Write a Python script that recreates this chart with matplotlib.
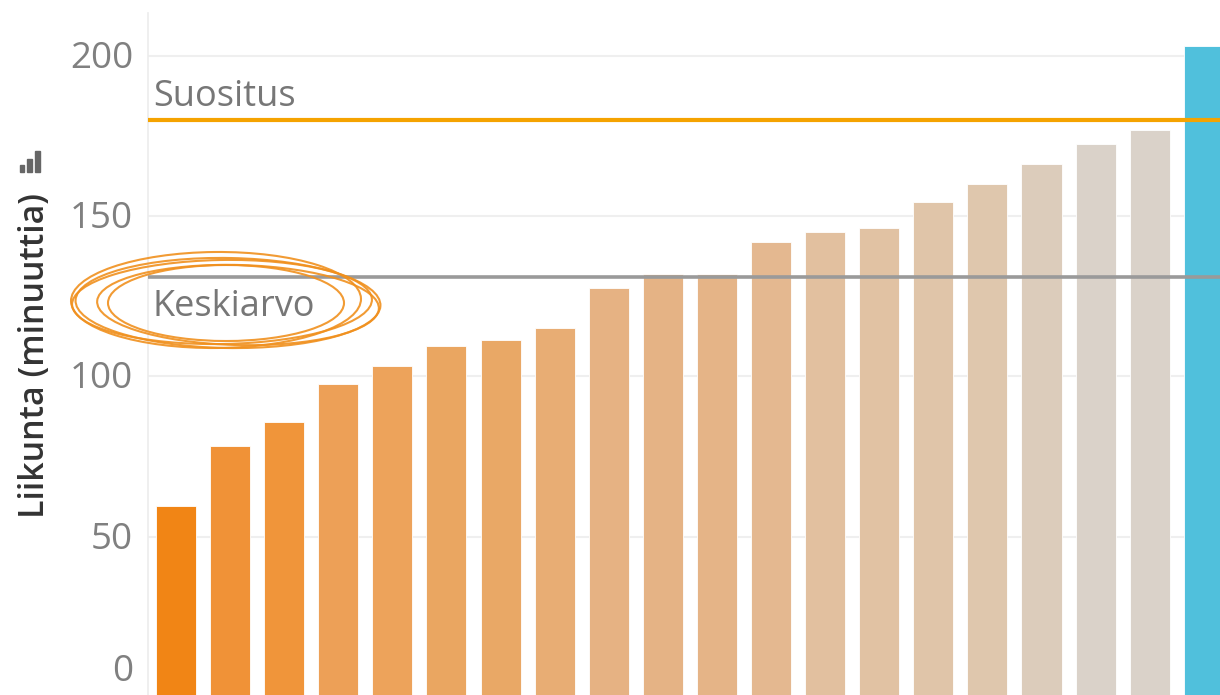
import matplotlib
matplotlib.use("Agg")
import matplotlib.pyplot as plt
import numpy as np
from matplotlib.patches import Ellipse, Rectangle

# ---- data ----
categories = [f"R{i+1}" for i in range(20)]
values = [59.6, 78.3, 85.8, 97.6, 103.2, 109.5, 111.3, 115.1, 127.5, 131.9,
          131.9, 141.9, 145.0, 146.2, 154.4, 160.0, 166.2, 172.4, 176.8, 203.0]
bar_colors = ["#F18515", "#F09237", "#F0953A", "#EDA057", "#EDA35B", "#EAA661",
              "#E9A866", "#E8AD74", "#E6B283", "#E5B385", "#E5B487", "#E4B890",
              "#E2C09F", "#E1C2A3", "#E0C5A9", "#DFC7AD", "#DCCCBB", "#DAD2C9",
              "#DAD2C9", "#50C0DC"]
recommendation = 180
yticks = [0, 50, 100, 150, 200]
ylabel = "Liikunta (minuuttia)"

W, H = 1220, 695
fig = plt.figure(figsize=(W / 100, H / 100), dpi=100)
plt.rcParams['font.family'] = ['Open Sans', 'DejaVu Sans']

# axes: left edge 148px, top 13px, value 0 at y=697px (just below image)
ax = fig.add_axes([148 / W, (H - 697) / H, (W - 148) / W, (697 - 13) / H])
x = np.arange(len(values))
ax.bar(x, values, width=0.74, color=bar_colors, edgecolor="white",
       linewidth=0.6, zorder=2)
ax.set_xlim(-0.518, 19.30)
ax.set_ylim(0, 213.3)

ax.set_yticks(yticks)
ax.set_yticklabels([])
ax.yaxis.grid(True, color="#EFEFEF", linewidth=1.5, zorder=0)
ax.tick_params(axis="both", length=0)
ax.set_xticks([])
for s in ["top", "right", "bottom"]:
    ax.spines[s].set_visible(False)
ax.spines["left"].set_color("#ECECEC")
ax.spines["left"].set_linewidth(1.2)

# tick labels (0 label kept inside image)
for t in yticks:
    ypix = 697 - t * (684 / 213.3) + 3
    if ypix > 672:
        ypix = 672
    fig.text(133 / W, 1 - ypix / H, str(t), ha="right", va="center",
             fontsize=26.5, color="#808080")

# reference lines
mean_val = float(np.mean(values))
ax.axhline(recommendation, color="#F5A300", linewidth=3, zorder=3)
ax.axhline(mean_val, color="#9A9A9A", linewidth=2.6, zorder=3)

fig.text(153 / W, 1 - 97 / H, "Suositus", ha="left", va="center",
         fontsize=26, color="#777777")
fig.text(153 / W, 1 - 307 / H, "Keskiarvo", ha="left", va="center",
         fontsize=26, color="#777777")

# y label
fig.text(35 / W, 1 - 355 / H, ylabel, rotation=90, ha="center", va="center",
         fontsize=24.5, color="#333333", fontweight="semibold")

# small bar icon
for (x0, x1, y0) in [(19.5, 23.5, 165), (27, 31.5, 159), (35, 39.5, 151)]:
    fig.patches.append(Rectangle((x0 / W, 1 - 172 / H), (x1 - x0) / W,
                                 (172 - y0) / H, transform=fig.transFigure,
                                 color="#666666"))

# hand-drawn ellipses around "Keskiarvo"
ell_specs = [
    (228, 303, 305, 90, -2),
    (222, 302, 300, 84, 2),
    (238, 305, 282, 80, -3),
    (216, 300, 290, 96, 1),
    (226, 303, 236, 76, 0),
]
for cx, cy, w, h, ang in ell_specs:
    e = Ellipse((cx / W, 1 - cy / H), w / W, h / H, angle=ang,
                transform=fig.transFigure, fill=False,
                edgecolor="#F0901E", linewidth=1.5, alpha=0.9)
    fig.patches.append(e)

fig.savefig("out.png", dpi=100)
